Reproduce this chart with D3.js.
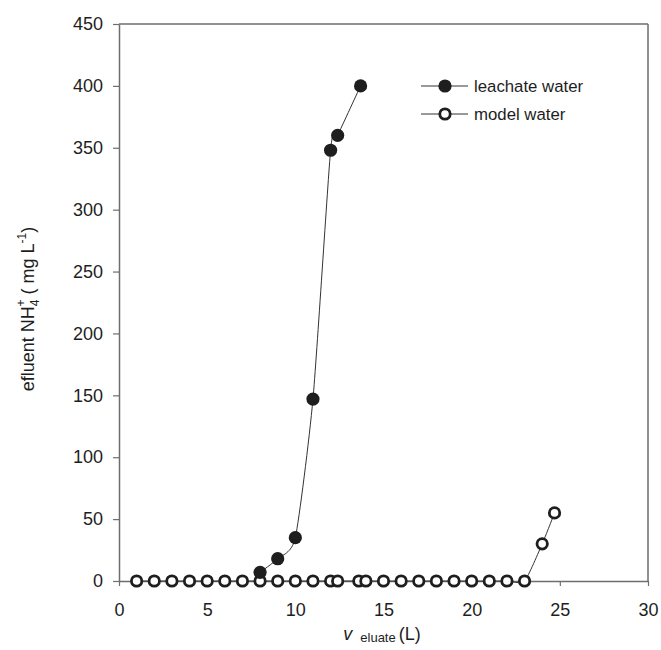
<!DOCTYPE html>
<html>
<head>
<meta charset="utf-8">
<script src="https://cdn.jsdelivr.net/npm/d3@7"></script>
<style>
  body { margin: 0; background: #fff; }
  text { font-family: "Liberation Sans", Arial, sans-serif; fill: #1e1e1e; }
</style>
</head>
<body>
<script>
// leachate water (filled markers)
const leachateX = [8, 9, 10, 11, 12, 12.4, 13.7];
const leachateY = [7, 18, 35, 147, 348, 360, 400];

// model water (open markers)
const modelX = [1, 2, 3, 4, 5, 6, 7, 8, 9, 10, 11, 12, 12.4, 13.6, 14, 15, 16, 17, 18, 19, 20, 21, 22, 23, 24, 24.7];
const modelY = [0, 0, 0, 0, 0, 0, 0, 0, 0, 0, 0, 0, 0, 0, 0, 0, 0, 0, 0, 0, 0, 0, 0, 0, 30, 55];

const xTicks = [0, 5, 10, 15, 20, 25, 30];
const yTicks = [0, 50, 100, 150, 200, 250, 300, 350, 400, 450];

const width = 661, height = 650;
const plotLeft = 119, plotRight = 648, plotTop = 24, plotBottom = 581;

const svg = d3.select("body").append("svg")
  .attr("width", width)
  .attr("height", height);

const x = d3.scaleLinear().domain([0, 30]).range([plotLeft, plotRight]);
const y = d3.scaleLinear().domain([0, 450]).range([plotBottom, plotTop]);

const axisColor = "#6e6e6e";

// frame top and right
svg.append("line").attr("x1", plotLeft).attr("x2", plotRight).attr("y1", plotTop).attr("y2", plotTop)
  .attr("stroke", axisColor).attr("stroke-width", 1.5);
svg.append("line").attr("x1", plotRight).attr("x2", plotRight).attr("y1", plotTop).attr("y2", plotBottom)
  .attr("stroke", axisColor).attr("stroke-width", 1.5);

const xAxis = svg.append("g")
  .attr("transform", `translate(0,${plotBottom})`)
  .call(d3.axisBottom(x).tickValues(xTicks).tickSize(5).tickPadding(17).tickSizeOuter(0));
const yAxis = svg.append("g")
  .attr("transform", `translate(${plotLeft},0)`)
  .call(d3.axisLeft(y).tickValues(yTicks).tickSize(6).tickPadding(10).tickSizeOuter(0));

[xAxis, yAxis].forEach(g => {
  g.select(".domain").attr("stroke", axisColor).attr("stroke-width", 1.5);
  g.selectAll(".tick line").attr("stroke", axisColor).attr("stroke-width", 1.2);
  g.selectAll(".tick text")
    .attr("font-size", 18)
    .attr("font-family", "'Liberation Sans', Arial, sans-serif")
    .attr("fill", "#1e1e1e");
});

// lines
const leachate = leachateX.map((v, i) => ({ x: v, y: leachateY[i] }));
const model = modelX.map((v, i) => ({ x: v, y: modelY[i] }));

const line = d3.line().x(d => x(d.x)).y(d => y(d.y)).curve(d3.curveCardinal.tension(0.4));

svg.append("path").datum(model)
  .attr("d", line).attr("fill", "none").attr("stroke", "#333").attr("stroke-width", 1);
svg.append("path").datum(leachate)
  .attr("d", line).attr("fill", "none").attr("stroke", "#333").attr("stroke-width", 1);

// markers
svg.append("g").selectAll("circle").data(model).join("circle")
  .attr("cx", d => x(d.x)).attr("cy", d => y(d.y)).attr("r", 5.2)
  .attr("fill", "#fff").attr("stroke", "#1e1e1e").attr("stroke-width", 2.8);
svg.append("g").selectAll("circle").data(leachate).join("circle")
  .attr("cx", d => x(d.x)).attr("cy", d => y(d.y)).attr("r", 6.6)
  .attr("fill", "#1e1e1e");

// legend
const legend = svg.append("g");
const legendItems = [
  { label: "leachate water", filled: true, y: 86 },
  { label: "model water", filled: false, y: 114 }
];
legendItems.forEach(it => {
  legend.append("line").attr("x1", 421).attr("x2", 468).attr("y1", it.y).attr("y2", it.y)
    .attr("stroke", "#333").attr("stroke-width", 1);
  if (it.filled) {
    legend.append("circle").attr("cx", 445).attr("cy", it.y).attr("r", 6.6).attr("fill", "#1e1e1e");
  } else {
    legend.append("circle").attr("cx", 445).attr("cy", it.y).attr("r", 5.2)
      .attr("fill", "#fff").attr("stroke", "#1e1e1e").attr("stroke-width", 2.8);
  }
  legend.append("text").attr("x", 474).attr("y", it.y + 6)
    .attr("font-size", 16.8).text(it.label);
});

// x axis title
const xt = svg.append("text").attr("x", 382).attr("y", 640).attr("text-anchor", "middle").attr("font-size", 18);
xt.append("tspan").attr("font-style", "italic").text("v");
xt.append("tspan").attr("font-size", 13).attr("dx", 8).attr("dy", 2).text("eluate");
xt.append("tspan").attr("dy", -2).attr("dx", 3).text("(L)");

// y axis title
const yt = svg.append("text")
  .attr("transform", "translate(34,309) rotate(-90)")
  .attr("text-anchor", "middle").attr("font-size", 18);
yt.append("tspan").text("efluent NH");
yt.append("tspan").attr("font-size", 12).attr("dy", 5).text("4");
yt.append("tspan").attr("font-size", 12).attr("dy", -14).attr("dx", -7).text("+");
yt.append("tspan").attr("dy", 9).text(" ( mg L");
yt.append("tspan").attr("font-size", 12).attr("dy", -8).text("-1");
yt.append("tspan").attr("dy", 8).text(")");
</script>
</body>
</html>
